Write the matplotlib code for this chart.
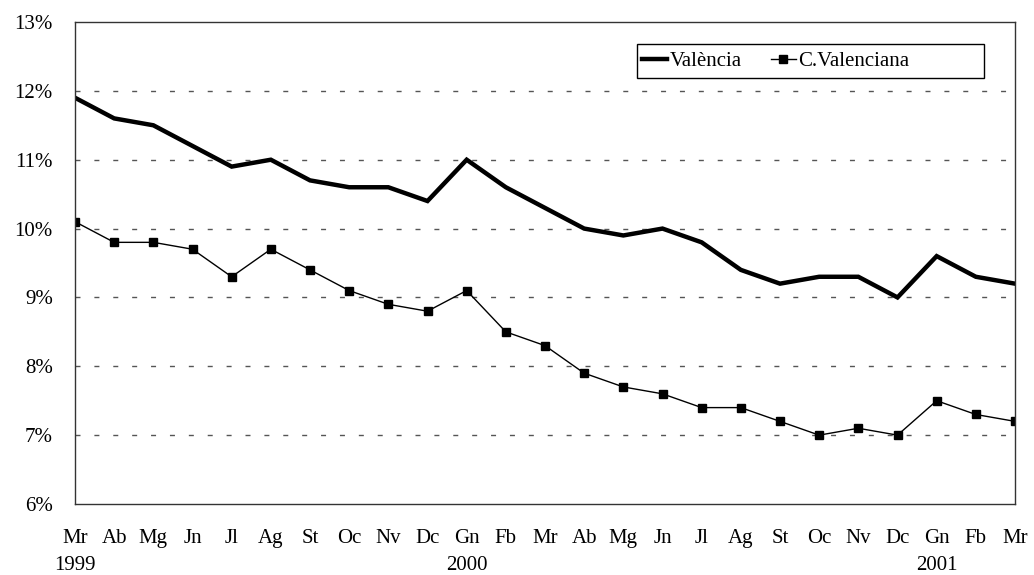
import matplotlib
matplotlib.use("Agg")
import matplotlib.pyplot as plt
import matplotlib.transforms as mtransforms
from matplotlib.patches import Rectangle

# monthly unemployment rate, Mar 1999 - Mar 2001
months = ["Mr", "Ab", "Mg", "Jn", "Jl", "Ag", "St", "Oc", "Nv", "Dc", "Gn", "Fb",
          "Mr", "Ab", "Mg", "Jn", "Jl", "Ag", "St", "Oc", "Nv", "Dc", "Gn", "Fb", "Mr"]
years = {0: "1999", 10: "2000", 22: "2001"}

valencia = [11.9, 11.6, 11.5, 11.2, 10.9, 11.0, 10.7, 10.6, 10.6, 10.4, 11.0, 10.6,
            10.3, 10.0, 9.9, 10.0, 9.8, 9.4, 9.2, 9.3, 9.3, 9.0, 9.6, 9.3, 9.2]
cvalenciana = [10.1, 9.8, 9.8, 9.7, 9.3, 9.7, 9.4, 9.1, 8.9, 8.8, 9.1, 8.5,
               8.3, 7.9, 7.7, 7.6, 7.4, 7.4, 7.2, 7.0, 7.1, 7.0, 7.5, 7.3, 7.2]

plt.rcParams["font.family"] = ["Liberation Serif", "DejaVu Serif"]
plt.rcParams["font.size"] = 15

fig = plt.figure(figsize=(10.34, 5.75), dpi=100)
ax = fig.add_axes([75 / 1034, 1 - 504 / 575, 940 / 1034, 482 / 575])

x = list(range(len(months)))
ax.plot(x, valencia, color="black", lw=3.2, label="València", solid_joinstyle="miter")
ax.plot(x, cvalenciana, color="black", lw=1.0, marker="s", markersize=6,
        label="C.Valenciana")

ax.set_xlim(0, len(months) - 1)
ax.set_ylim(6, 13)
ax.set_yticks(range(6, 14))
ax.set_yticklabels([f"{v}%" for v in range(6, 14)])
ax.set_xticks(x)
ax.set_xticklabels(months)
ax.tick_params(axis="both", length=0, labelsize=15)
ax.tick_params(axis="y", pad=16)
ax.tick_params(axis="x", pad=18)

for v in range(7, 13):
    ax.axhline(v, color="#555555", lw=1.0, linestyle=(0, (3.6, 10)), zorder=0)

for s in ax.spines.values():
    s.set_color("#333333")
    s.set_linewidth(1.0)

trans = mtransforms.blended_transform_factory(ax.transData, fig.transFigure)
for i, yr in years.items():
    ax.text(i, 1 - 566 / 575, yr, transform=trans, ha="center", va="center",
            fontsize=15)

# legend box drawn separately so it can be wider than its content
box = Rectangle((0.598, 0.884), 0.369, 0.070, transform=ax.transAxes,
                facecolor="white", edgecolor="black", lw=1.0, zorder=4)
ax.add_patch(box)
leg = ax.legend(loc="center left", bbox_to_anchor=(0.598, 0.919), ncol=2,
                frameon=False, handlelength=1.2, handletextpad=0.1,
                columnspacing=1.4, borderpad=0.25, borderaxespad=0, fontsize=15)
leg.set_zorder(5)

fig.savefig("out.png", dpi=100)
